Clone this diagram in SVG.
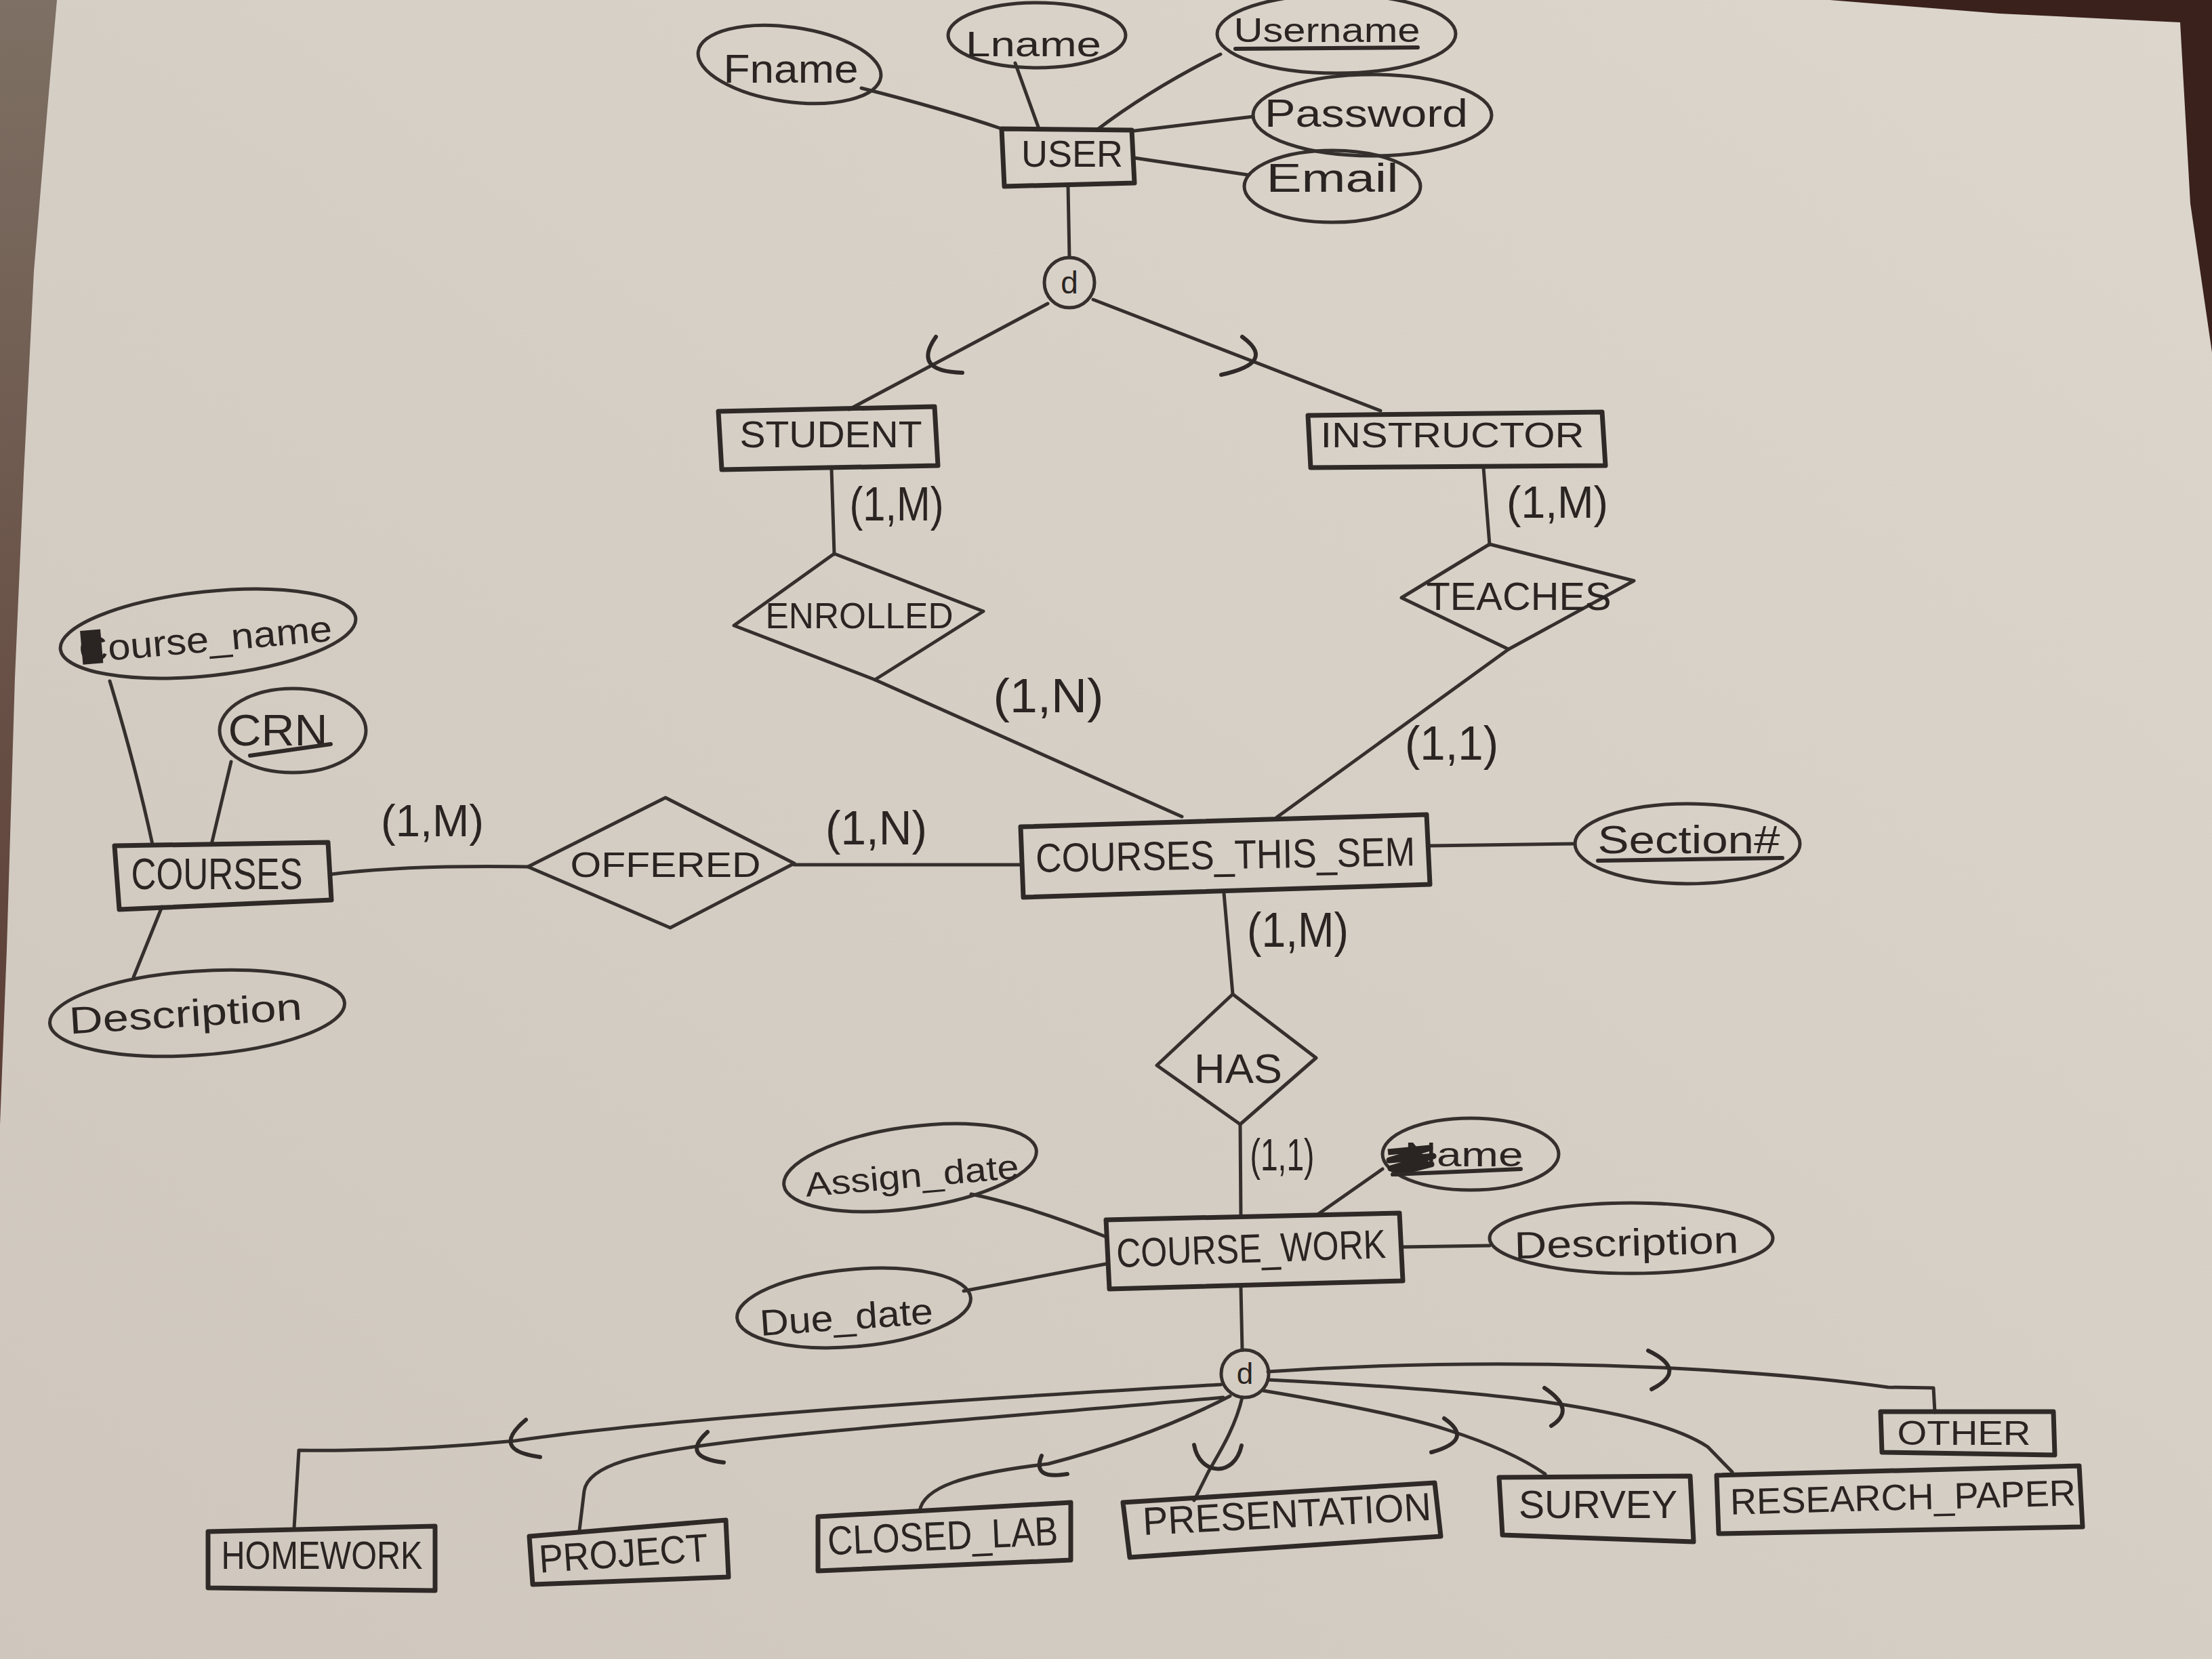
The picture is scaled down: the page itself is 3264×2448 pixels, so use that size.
<svg xmlns="http://www.w3.org/2000/svg" width="3264" height="2448" viewBox="0 0 3264 2448">
<defs>
<linearGradient id="paper" x1="1" y1="0" x2="0" y2="1">
<stop offset="0" stop-color="#dcd6cd"/>
<stop offset="1" stop-color="#cfc7bd"/>
</linearGradient>
<linearGradient id="edge" x1="0" y1="0" x2="0" y2="1">
<stop offset="0" stop-color="#7e7064"/>
<stop offset="1" stop-color="#5a3c34"/>
</linearGradient>
<style>
.ln{fill:none;stroke:#35302d;stroke-width:5;stroke-linecap:round;stroke-linejoin:round}
.sub{fill:none;stroke:#2f2a28;stroke-width:6;stroke-linecap:round}
.ent{fill:none;stroke:#2f2a28;stroke-width:7;stroke-linejoin:round}
.rel{fill:none;stroke:#35302d;stroke-width:5;stroke-linejoin:round}
.att{fill:none;stroke:#35302d;stroke-width:5}
.t{font-family:"Liberation Sans",Arial,sans-serif;fill:#2a2422;text-anchor:middle}
.ul{fill:none;stroke:#2f2a28;stroke-width:6;stroke-linecap:round}
</style>
</defs>
<rect x="0" y="0" width="3264" height="2448" fill="url(#paper)"/>
<polygon points="0,0 84,0 70,160 50,400 35,700 22,1000 10,1400 0,1660" fill="url(#edge)"/>
<polygon points="2700,0 3264,0 3264,520 3232,300 3217,33 2950,20" fill="#3a211c"/>

<g id="connectors">
<path class="ln" d="M1271,130 Q1390,160 1478,190"/>
<path class="ln" d="M1498,93 L1533,190"/>
<path class="ln" d="M1801,80 Q1700,130 1618,192"/>
<path class="ln" d="M1674,193 L1849,172"/>
<path class="ln" d="M1674,233 L1841,258"/>
<path class="ln" d="M1576,275 L1578,380"/>
<path class="ln" d="M1546,448 L1253,604"/>
<path class="sub" d="M1381,497 Q1345,548 1420,550"/>
<path class="ln" d="M1613,442 L2037,606"/>
<path class="sub" d="M1833,497 Q1885,535 1802,553"/>
<path class="ln" d="M1227,692 L1231,818"/>
<path class="ln" d="M2189,690 L2198,804"/>
<path class="ln" d="M1291,1003 L1744,1205"/>
<path class="ln" d="M2226,958 L1884,1206"/>
<path class="ln" d="M162,1005 Q200,1130 225,1246"/>
<path class="ln" d="M341,1124 L312,1246"/>
<path class="ln" d="M239,1338 L197,1442"/>
<path class="ln" d="M489,1290 Q600,1276 779,1279"/>
<path class="ln" d="M1172,1276 L1506,1276"/>
<path class="ln" d="M2110,1248 L2324,1245"/>
<path class="ln" d="M1806,1318 L1819,1467"/>
<path class="ln" d="M1830,1659 L1831,1795"/>
<path class="ln" d="M2040,1725 L1943,1793"/>
<path class="ln" d="M1433,1762 Q1520,1780 1632,1825"/>
<path class="ln" d="M1422,1905 L1632,1865"/>
<path class="ln" d="M2070,1840 L2198,1838"/>
<path class="ln" d="M1831,1900 L1833,1992"/>
<path class="ln" d="M1802,2043 C1500,2060 1000,2090 760,2126 Q600,2142 441,2140 L434,2255"/>
<path class="sub" d="M776,2095 Q722,2140 797,2150"/>
<path class="ln" d="M1805,2062 C1500,2090 1200,2110 1044,2132 C950,2145 868,2160 862,2200 L855,2258"/>
<path class="sub" d="M1044,2113 Q1003,2150 1068,2158"/>
<path class="ln" d="M1815,2060 Q1700,2120 1547,2160 C1420,2175 1362,2195 1357,2230"/>
<path class="sub" d="M1537,2148 Q1522,2184 1575,2175"/>
<path class="ln" d="M1833,2062 C1822,2110 1795,2150 1783,2172 L1762,2214"/>
<path class="sub" d="M1762,2132 C1770,2178 1822,2180 1832,2133"/>
<path class="ln" d="M1864,2052 Q2060,2085 2136,2110 Q2230,2140 2280,2175"/>
<path class="sub" d="M2131,2093 Q2177,2125 2112,2143"/>
<path class="ln" d="M1871,2036 Q2150,2050 2289,2070 Q2460,2095 2520,2135 L2556,2172"/>
<path class="sub" d="M2279,2048 Q2327,2080 2289,2104"/>
<path class="ln" d="M1871,2024 Q2150,2005 2451,2018 Q2650,2028 2786,2047 L2853,2048 L2855,2084"/>
<path class="sub" d="M2432,1993 Q2492,2022 2437,2050"/>
</g>

<g id="user">
<polygon class="ent" points="1478,190 1670,192 1674,270 1482,275"/>
<text class="t" x="1582" y="246" font-size="56" textLength="150" lengthAdjust="spacingAndGlyphs">USER</text>
</g>
<g id="fname">
<ellipse class="att" cx="1165" cy="95" rx="136" ry="55" transform="rotate(8 1165 95)"/>
<text class="t" x="1167" y="122" font-size="60" textLength="199" lengthAdjust="spacingAndGlyphs">Fname</text>
</g>
<g id="lname">
<ellipse class="att" cx="1530" cy="52" rx="131" ry="48"/>
<text class="t" x="1525" y="83" font-size="52" textLength="200" lengthAdjust="spacingAndGlyphs">Lname</text>
</g>
<g id="username">
<ellipse class="att" cx="1972" cy="50" rx="176" ry="58"/>
<text class="t" x="1958" y="62" font-size="50" textLength="275" lengthAdjust="spacingAndGlyphs">Username</text>
<line class="ul" x1="1823" y1="72" x2="2092" y2="70"/>
</g>
<g id="password">
<ellipse class="att" cx="2025" cy="170" rx="176" ry="60"/>
<text class="t" x="2016" y="187" font-size="58" textLength="300" lengthAdjust="spacingAndGlyphs">Password</text>
</g>
<g id="email">
<ellipse class="att" cx="1966" cy="275" rx="130" ry="53"/>
<text class="t" x="1966" y="283" font-size="60" textLength="195" lengthAdjust="spacingAndGlyphs">Email</text>
</g>
<g id="d_user">
<circle class="att" cx="1578" cy="417" r="37"/>
<text class="t" x="1578" y="433" font-size="46">d</text>
</g>
<g id="student">
<polygon class="ent" points="1060,607 1379,600 1384,687 1065,693"/>
<text class="t" x="1226" y="660" font-size="56" textLength="269" lengthAdjust="spacingAndGlyphs">STUDENT</text>
</g>
<g id="instructor">
<polygon class="ent" points="1930,613 2364,608 2369,687 1934,690"/>
<text class="t" x="2143" y="660" font-size="52" textLength="389" lengthAdjust="spacingAndGlyphs">INSTRUCTOR</text>
</g>
<g id="enrolled">
<polygon class="rel" points="1231,817 1451,902 1291,1003 1083,923"/>
<text class="t" x="1268" y="927" font-size="54" textLength="277" lengthAdjust="spacingAndGlyphs">ENROLLED</text>
</g>
<g id="teaches">
<polygon class="rel" points="2198,803 2411,857 2226,958 2068,882"/>
<text class="t" x="2241" y="900" font-size="58" textLength="273" lengthAdjust="spacingAndGlyphs">TEACHES</text>
</g>
<g id="labels">
<text class="t" x="1323" y="768" font-size="70" textLength="139" lengthAdjust="spacingAndGlyphs">(1,M)</text>
<text class="t" x="2298" y="764" font-size="66" textLength="150" lengthAdjust="spacingAndGlyphs">(1,M)</text>
<text class="t" x="1547" y="1051" font-size="70" textLength="163" lengthAdjust="spacingAndGlyphs">(1,N)</text>
<text class="t" x="2142" y="1121" font-size="70" textLength="138" lengthAdjust="spacingAndGlyphs">(1,1)</text>
<text class="t" x="1293" y="1246" font-size="70" textLength="150" lengthAdjust="spacingAndGlyphs">(1,N)</text>
<text class="t" x="638" y="1234" font-size="66" textLength="152" lengthAdjust="spacingAndGlyphs">(1,M)</text>
<text class="t" x="1915" y="1397" font-size="72" textLength="150" lengthAdjust="spacingAndGlyphs">(1,M)</text>
<text class="t" x="1892" y="1727" font-size="66" textLength="95" lengthAdjust="spacingAndGlyphs">(1,1)</text>
</g>
<g id="courses_this_sem">
<polygon class="ent" points="1506,1220 2105,1202 2110,1305 1510,1324"/>
<text class="t" x="1808" y="1282" font-size="60" textLength="560" lengthAdjust="spacingAndGlyphs" transform="rotate(-1 1808 1260)">COURSES_THIS_SEM</text>
</g>
<g id="section">
<ellipse class="att" cx="2490" cy="1245" rx="166" ry="59"/>
<text class="t" x="2492" y="1259" font-size="58" textLength="269" lengthAdjust="spacingAndGlyphs">Section#</text>
<line class="ul" x1="2358" y1="1270" x2="2630" y2="1266"/>
</g>
<g id="offered">
<polygon class="rel" points="982,1177 1172,1274 989,1369 779,1279"/>
<text class="t" x="982" y="1294" font-size="52" textLength="281" lengthAdjust="spacingAndGlyphs">OFFERED</text>
</g>
<g id="courses">
<polygon class="ent" points="169,1248 484,1243 489,1328 176,1342"/>
<text class="t" x="320" y="1312" font-size="64" textLength="253" lengthAdjust="spacingAndGlyphs">COURSES</text>
</g>
<g id="course_name">
<ellipse class="att" cx="307" cy="935" rx="219" ry="62" transform="rotate(-6 307 935)"/>
<rect x="120" y="915" width="30" height="50" fill="#2a2422" transform="rotate(-5 303 945)"/>
<text class="t" x="303" y="962" font-size="54" textLength="375" lengthAdjust="spacingAndGlyphs" transform="rotate(-5 303 945)">Course_name</text>
</g>
<g id="crn">
<ellipse class="att" cx="432" cy="1078" rx="108" ry="62"/>
<text class="t" x="410" y="1100" font-size="64" textLength="147" lengthAdjust="spacingAndGlyphs">CRN</text>
<line class="ul" x1="369" y1="1115" x2="488" y2="1098"/>
</g>
<g id="courses_description">
<ellipse class="att" cx="291" cy="1495" rx="218" ry="62" transform="rotate(-4 291 1495)"/>
<text class="t" x="274" y="1515" font-size="56" textLength="344" lengthAdjust="spacingAndGlyphs" transform="rotate(-3.5 274 1500)">Description</text>
</g>
<g id="has">
<polygon class="rel" points="1819,1467 1942,1561 1830,1659 1707,1572"/>
<text class="t" x="1827" y="1598" font-size="62" textLength="130" lengthAdjust="spacingAndGlyphs">HAS</text>
</g>
<g id="course_work">
<polygon class="ent" points="1632,1800 2065,1790 2070,1890 1637,1902"/>
<text class="t" x="1846" y="1863" font-size="60" textLength="398" lengthAdjust="spacingAndGlyphs" transform="rotate(-2 1846 1840)">COURSE_WORK</text>
</g>
<g id="name">
<ellipse class="att" cx="2170" cy="1703" rx="130" ry="53"/>
<path d="M2048,1700 L2110,1694 L2050,1712 L2115,1706 L2052,1724 L2112,1718 L2058,1732" fill="none" stroke="#2a2422" stroke-width="9" stroke-linejoin="round"/>
<text class="t" x="2160" y="1721" font-size="50" textLength="175" lengthAdjust="spacingAndGlyphs">Name</text>
<line class="ul" x1="2055" y1="1733" x2="2244" y2="1725"/>
</g>
<g id="assign_date">
<ellipse class="att" cx="1343" cy="1723" rx="188" ry="60" transform="rotate(-8 1343 1723)"/>
<text class="t" x="1346" y="1752" font-size="50" textLength="316" lengthAdjust="spacingAndGlyphs" transform="rotate(-5 1346 1738)">Assign_date</text>
</g>
<g id="due_date">
<ellipse class="att" cx="1260" cy="1930" rx="173" ry="57" transform="rotate(-5 1260 1930)"/>
<text class="t" x="1249" y="1962" font-size="54" textLength="256" lengthAdjust="spacingAndGlyphs" transform="rotate(-4 1249 1945)">Due_date</text>
</g>
<g id="cw_description">
<ellipse class="att" cx="2407" cy="1827" rx="209" ry="52"/>
<text class="t" x="2400" y="1853" font-size="56" textLength="331" lengthAdjust="spacingAndGlyphs" transform="rotate(-1.5 2400 1835)">Description</text>
</g>
<g id="d_work">
<circle class="att" cx="1837" cy="2027" r="35"/>
<text class="t" x="1837" y="2042" font-size="44">d</text>
</g>
<g id="homework">
<polygon class="ent" points="307,2260 642,2252 642,2347 307,2343"/>
<text class="t" x="475" y="2315" font-size="58" textLength="297" lengthAdjust="spacingAndGlyphs">HOMEWORK</text>
</g>
<g id="project">
<polygon class="ent" points="781,2267 1071,2243 1075,2327 786,2338"/>
<text class="t" x="920" y="2312" font-size="58" textLength="250" lengthAdjust="spacingAndGlyphs" transform="rotate(-4 920 2292)">PROJECT</text>
</g>
<g id="closed_lab">
<polygon class="ent" points="1207,2238 1580,2217 1580,2302 1207,2318"/>
<text class="t" x="1391" y="2287" font-size="60" textLength="340" lengthAdjust="spacingAndGlyphs" transform="rotate(-2.5 1391 2265)">CLOSED_LAB</text>
</g>
<g id="presentation">
<polygon class="ent" points="1657,2217 2117,2188 2126,2267 1667,2298"/>
<text class="t" x="1899" y="2254" font-size="58" textLength="426" lengthAdjust="spacingAndGlyphs" transform="rotate(-3 1899 2235)">PRESENTATION</text>
</g>
<g id="survey">
<polygon class="ent" points="2212,2180 2494,2178 2499,2275 2217,2265"/>
<text class="t" x="2358" y="2240" font-size="58" textLength="234" lengthAdjust="spacingAndGlyphs">SURVEY</text>
</g>
<g id="research_paper">
<polygon class="ent" points="2533,2177 3068,2163 3073,2253 2536,2263"/>
<text class="t" x="2808" y="2228" font-size="54" textLength="510" lengthAdjust="spacingAndGlyphs" transform="rotate(-1.5 2808 2210)">RESEARCH_PAPER</text>
</g>
<g id="other">
<polygon class="ent" points="2775,2083 3030,2083 3032,2147 2777,2143"/>
<text class="t" x="2898" y="2132" font-size="50" textLength="197" lengthAdjust="spacingAndGlyphs">OTHER</text>
</g>
</svg>
